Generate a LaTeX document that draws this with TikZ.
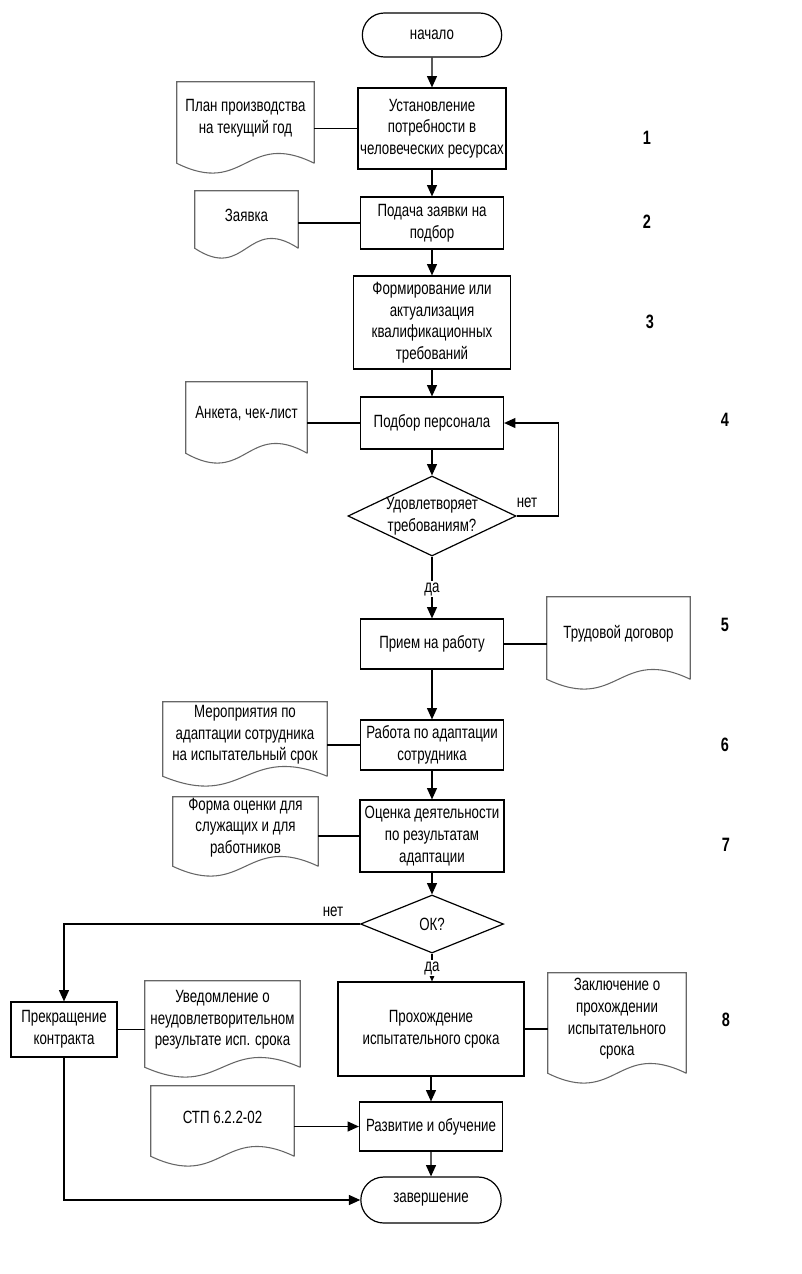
\documentclass[tikz,border=0pt]{standalone}
\usepackage{fontspec}
\setmainfont{Liberation Sans}[FakeStretch=0.75]
\usetikzlibrary{arrows.meta,shapes.geometric,shapes.misc,calc}

\newcommand\docnode[6]{% name, L, T, R, B, text
  \node[docbox, minimum width={(#4-#2)*0.75pt}, minimum height={(#5-#3)*0.75pt}] (#1) at ({(#2+#4)/2},{(#3+#5)/2}) {};
  \draw[docline] (#1.south east) -- (#1.north east) -- (#1.north west) -- (#1.south west)
    .. controls +({(#4-#2)/2},34) and +({-(#4-#2)/2},-34) .. (#1.south east);
  \node[doctext] (#1t) at ($(#1)+(0,-4)$) {#6};
}

\begin{document}
\begin{tikzpicture}[x=0.75pt,y=-0.75pt,
  font=\fontsize{13.3}{16.2}\selectfont,
  box/.style={draw, line width=0.9pt, align=center, inner sep=1pt},
  term/.style={draw, line width=0.9pt, rounded rectangle, align=center, inner sep=1pt},
  decision/.style={draw, line width=0.9pt, diamond, inner sep=0pt},
  docbox/.style={inner sep=0pt},
  doctext/.style={align=center, inner sep=1pt},
  docline/.style={draw=black!60, line width=0.8pt},
  conn/.style={line width=0.9pt},
  arr/.style={conn, -{Triangle[width=7.5pt,length=8.5pt]}},
  bw/.style={minimum width={#1*0.75pt}},
  bh/.style={minimum height={#1*0.75pt}},
  num/.style={font=\fontsize{14.5}{16}\selectfont\bfseries, inner sep=0pt},
  lbl/.style={inner sep=1pt}]
\useasboundingbox (0,0) rectangle (802,1274);

% main column
\node[term, bw=142, bh=44] (n0) at (432,35) {начало};
\node[box, bw=148, bh=81] (b1) at (432,128.5) {Установление\\потребности в\\человеческих ресурсах};
\node[box, bw=143, bh=52] (b2) at (432,223) {Подача заявки на\\подбор};
\node[box, bw=157, bh=93] (b3) at (432,322.5) {Формирование или\\актуализация\\квалификационных\\требований};
\node[box, bw=143, bh=52] (b4) at (432,423) {Подбор персонала};
\node[decision, bw=168, bh=80] (d1) at (432,516) {};
\node[align=center, inner sep=0pt] (d1t) at (d1) {Удовлетворяет\\требованиям?};
\node[box, bw=143, bh=50] (b5) at (432,644) {Прием на работу};
\node[box, bw=143, bh=50] (b6) at (432,745) {Работа по адаптации\\сотрудника};
\node[box, bw=144, bh=72] (b7) at (432,836) {Оценка деятельности\\по результатам\\адаптации};
\node[decision, bw=143, bh=58] (d2) at (432,924) {};
\node[inner sep=0pt] (d2t) at (d2) {ОК?};
\node[box, bw=186, bh=94] (b8) at (431,1029) {Прохождение\\испытательного срока};
\node[box, bw=143, bh=49] (b9) at (431,1126.5) {Развитие и обучение};
\node[term, bw=143, bh=46] (n9) at (431,1200) {завершение};
\node[box, bw=106, bh=55] (bk) at (64,1029.5) {Прекращение\\контракта};

% documents
\docnode{dc1}{177}{82}{314}{163}{План производства\\на текущий год}
\docnode{dc2}{195}{191}{298}{248}{Заявка}
\docnode{dc4}{186}{382}{307}{453}{Анкета, чек-лист}
\docnode{dc5}{547}{597}{690}{679}{Трудовой договор}
\docnode{dc6}{163}{702}{327}{776}{Мероприятия по\\адаптации сотрудника\\на испытательный срок}
\docnode{dc7}{173}{797}{318}{866}{Форма оценки для\\служащих и для\\работников}
\docnode{dcu}{145}{981}{300}{1067}{Уведомление о\\неудовлетворительном\\результате исп. срока}
\docnode{dc8}{548}{973}{686}{1073}{Заключение о\\прохождении\\испытательного\\срока}
\docnode{dc9}{151}{1086}{294}{1156}{СТП 6.2.2-02}

% main flow arrows
\draw[arr] (n0) -- (b1);
\draw[arr] (b1) -- (b2);
\draw[arr] (b2) -- (b3);
\draw[arr] (b3) -- (b4);
\draw[arr] (b4) -- (d1);
\draw[arr] (d1) -- (b5);
\node[lbl, fill=white] (da1) at (432,589) {да};
\draw[arr] (b5.south -| b6.north) -- (b6);
\draw[arr] (b6) -- (b7);
\draw[arr] (b7) -- (d2);
\draw[arr] (d2.south) -- (d2.south |- b8.north);
\node[lbl, fill=white] (da2) at (432,968) {да};
\draw[arr] (b8.south -| b9.north) -- (b9);
\draw[arr] (b9) -- (n9);

% loops and branches
\draw[arr] (d1.east) -- ++(42,0) |- (b4.east);
\node[lbl] (net1) at (527,503) {нет};
\draw[arr] (d2.west) -| (bk.north);
\node[lbl] (net2) at (333,912) {нет};
\draw[arr] (bk.south) |- (n9.west);

% document connectors
\draw[conn] (dc1.east |- b1.west) -- (b1.west);
\draw[conn] (dc2.east |- b2.west) -- (b2.west);
\draw[conn] (dc4.east |- b4.west) -- (b4.west);
\draw[conn] (b5.east) -- (dc5.west |- b5.east);
\draw[conn] (dc6.east |- b6.west) -- (b6.west);
\draw[conn] (dc7.east |- b7.west) -- (b7.west);
\draw[conn] (bk.east) -- (dcu.west |- bk.east);
\draw[conn] (b8.east) -- (dc8.west |- b8.east);
\draw[arr] (dc9.east |- b9.west) -- (b9.west);

% step numbers
\node[num] (s1) at (647,138) {1};
\node[num] (s2) at (647,222) {2};
\node[num] (s3) at (650,322) {3};
\node[num] (s4) at (725,420) {4};
\node[num] (s5) at (725,625) {5};
\node[num] (s6) at (725,745) {6};
\node[num] (s7) at (726,845) {7};
\node[num] (s8) at (726,1020) {8};
\end{tikzpicture}
\end{document}
